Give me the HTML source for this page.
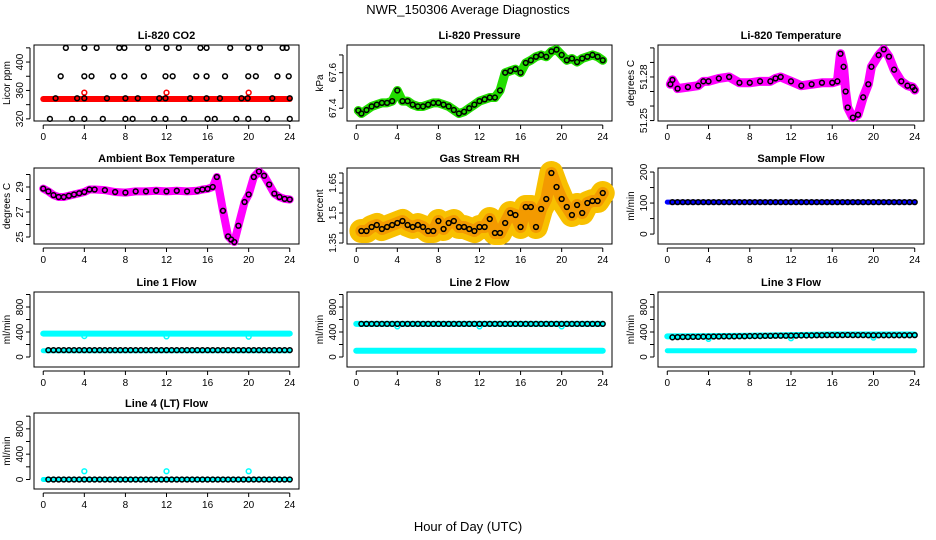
<!DOCTYPE html>
<html><head><meta charset="utf-8">
<style>
html,body{margin:0;padding:0;background:#fff;}
svg{display:block;font-family:"Liberation Sans",sans-serif;}
</style></head>
<body>
<svg id="c" width="936" height="540" viewBox="0 0 936 540">
<text x="468" y="14" text-anchor="middle" font-size="13">NWR_150306  Average Diagnostics</text>
<text x="468" y="531" text-anchor="middle" font-size="13">Hour of Day (UTC)</text>
</svg>
<script>
// ---------- data ----------
const xTicks = [0,4,8,12,16,20,24];
const HALF = [0.5,1,1.5,2,2.5,3,3.5,4,4.5,5,5.5,6,6.5,7,7.5,8,8.5,9,9.5,10,10.5,11,11.5,12,12.5,13,13.5,14,14.5,15,15.5,16,16.5,17,17.5,18,18.5,19,19.5,20,20.5,21,21.5,22,22.5,23,23.5,24];
const BAND_H = [0,24];

const co2Hours = [2.2,4.0,5.2,7.4,7.9,10.2,12.0,13.2,15.3,15.9,18.2,19.96,21.1,23.3,23.7,
 1.7,4.0,4.7,6.8,7.9,9.8,11.9,12.6,14.9,15.9,17.7,19.96,20.7,22.8,23.9,
 1.2,3.3,4.0,6.2,8.0,9.2,11.3,11.9,14.3,15.9,17.2,19.3,19.9,22.3,24,
 0.65,2.8,4.0,5.8,8.0,8.7,10.8,11.9,13.7,16.0,16.7,18.8,19.96,21.8,24];
const co2Vals = [420,420,420,420,420,420,420,420,420,420,420,420,420,420,420,
 380,380,380,380,380,380,380,380,380,380,380,380,380,380,380,
 349,349,349,349,349,349,349,349,349,349,349,349,349,349,349,
 320,320,320,320,320,320,320,320,320,320,320,320,320,320,320];
const co2Band = [348,348];
const co2RedHours = [4,12,20];
const co2RedVals = [357,357,357];

const presHours = [0.2,0.5,1,1.5,2,2.5,3,3.5,4,4.5,5,5.5,6,6.5,7,7.5,8,8.5,9,9.5,10,10.5,11,11.5,12,12.5,13,13.5,14,14.5,15,15.5,16,16.5,17,17.5,18,18.5,19,19.5,20,20.5,21,21.5,22,22.5,23,23.5,24];
const presVals = [67.387,67.37,67.39,67.41,67.42,67.43,67.43,67.44,67.50,67.44,67.44,67.42,67.41,67.41,67.42,67.43,67.43,67.42,67.41,67.39,67.37,67.38,67.40,67.42,67.44,67.45,67.46,67.46,67.50,67.60,67.61,67.62,67.60,67.655,67.67,67.69,67.70,67.69,67.72,67.73,67.70,67.67,67.68,67.66,67.68,67.69,67.70,67.69,67.67];

const ltHours = [0.3,0.5,1,2,3,3.5,4,5,6,7,8,9,10,10.5,11,12,13,14,15,16,16.5,16.8,17.1,17.3,17.5,18,18.5,19,19.5,19.8,20.5,21,21.5,22,22.7,23.3,23.8,24];
const ltVals = [51.275,51.278,51.272,51.273,51.274,51.277,51.277,51.279,51.28,51.276,51.276,51.277,51.277,51.279,51.28,51.277,51.274,51.275,51.276,51.276,51.277,51.296,51.287,51.27,51.259,51.252,51.254,51.266,51.275,51.287,51.295,51.299,51.294,51.285,51.277,51.274,51.273,51.271];

const ambHours = [0,0.5,1,1.5,2,2.5,3,3.5,4,4.5,5,6,7,8,9,10,11,12,13,14,15,15.5,16,16.5,16.9,17.5,18,18.3,18.6,19,19.6,20,20.5,21,21.5,22,22.5,23,23.5,24];
const ambVals = [28.87,28.65,28.35,28.2,28.2,28.3,28.4,28.5,28.6,28.8,28.8,28.75,28.6,28.55,28.65,28.65,28.7,28.65,28.7,28.65,28.7,28.8,28.85,29.0,29.8,27.1,25.05,24.8,24.6,25.9,27.8,28.4,29.8,30.24,29.9,29.2,28.47,28.2,28.05,28.0];

const rhVals = [1.41,1.41,1.43,1.44,1.42,1.43,1.44,1.45,1.46,1.44,1.43,1.44,1.43,1.41,1.41,1.46,1.42,1.45,1.46,1.43,1.43,1.42,1.41,1.43,1.43,1.47,1.40,1.40,1.45,1.50,1.49,1.43,1.53,1.53,1.43,1.52,1.57,1.70,1.63,1.57,1.53,1.49,1.54,1.50,1.55,1.56,1.56,1.60];

const sampleVals = [103,103];
const sampleBlack = HALF.map(()=>103);

const l1Hi = [375,375]; const l1Lo=[100,100];
const l1Black = HALF.map(()=>110);
const l2Hi = [530,530]; const l2Lo=[100,100];
const l2Black = HALF.map(()=>530);
const l2OutH=[4,12,20]; const l2OutV=[490,490,490];
const l1OutH=[4,12,20]; const l1OutV=[335,330,325];
const l3Black = [315,318,320,320,322,322,325,325,328,328,330,330,330,332,332,335,335,335,338,338,340,340,340,342,342,345,345,345,348,348,350,350,350,350,352,350,350,350,348,348,348,348,348,348,348,348,348,350];
const l3CyH=[0,4,8,12,16,20,24]; const l3CyV=[330,335,340,350,360,360,360]; const l3Lo=[100,100];
const l3OutH=[4,12,20]; const l3OutV=[290,300,310];
const l4Black = HALF.map(()=>0);
const l4OutH=[4,12,20]; const l4OutV=[130,130,130];

// ---------- drawing ----------
const NS="http://www.w3.org/2000/svg";
const svg=document.getElementById('c');
function mk(tag,attrs,parent){const e=document.createElementNS(NS,tag);for(const k in attrs)e.setAttribute(k,attrs[k]);(parent||svg).appendChild(e);return e;}

const COLS=[[34,299],[347,612],[658,924]];
const ROWS=[[45,121],[168,244],[292,367],[413,489]];

function panel(name,col,row,title,ylab,dom,ticks,labels){
  const [L,R]=COLS[col],[T,B]=ROWS[row];
  const g=mk('g',{});
  
  
  const xs=h=>L+(h+0.9)/25.8*(R-L);
  const ys=v=>B-(v-dom[0])/(dom[1]-dom[0])*(B-T);
  const box=mk('rect',{x:L,y:T,width:R-L,height:B-T,fill:'none',stroke:'#000','stroke-width':1},g);
  
  
  const t=mk('text',{x:(L+R)/2,y:T-6,'text-anchor':'middle','font-size':11,'font-weight':'bold'},g);t.textContent=title;
  
  
  const yl=mk('text',{transform:`translate(${L-24},${(T+B)/2}) rotate(-90)`,'text-anchor':'middle','font-size':10},g);yl.textContent=ylab;
  
  
  const ya=mk('g',{},g);
  
  
  mk('line',{x1:L-4,x2:L-4,y1:ys(ticks[0]),y2:ys(ticks[ticks.length-1]),stroke:'#000'},ya);
  ticks.forEach(v=>{mk('line',{x1:L-8,x2:L-4,y1:ys(v),y2:ys(v),stroke:'#000'},ya);});
  labels.forEach(v=>{const tx=mk('text',{transform:`translate(${L-11},${ys(v)}) rotate(-90)`,'text-anchor':'middle','font-size':10},ya);tx.textContent=String(v);});
  const xa=mk('g',{},g);
  
  
  mk('line',{x1:xs(0),x2:xs(24),y1:B+4,y2:B+4,stroke:'#000'},xa);
  xTicks.forEach(h=>{mk('line',{x1:xs(h),x2:xs(h),y1:B+4,y2:B+8,stroke:'#000'},xa);
    const tx=mk('text',{x:xs(h),y:B+19,'text-anchor':'middle','font-size':10},xa);tx.textContent=h;});
  return {g,xs,ys};
}
function band(p,hs,vs,color,w,name,op){
  const pts=hs.map((h,i)=>p.xs(h)+','+p.ys(vs[i])).join(' ');
  const e=mk('polyline',{points:pts,fill:'none',stroke:color,'stroke-width':w,'stroke-linecap':'round','stroke-linejoin':'round','stroke-opacity':op||1},p.g);
  
  
}
function pts(p,hs,vs,color,name,r){
  const gg=mk('g',{},p.g);
  
  
  hs.forEach((h,i)=>mk('circle',{cx:p.xs(h),cy:p.ys(vs[i]),r:r||2.4,fill:'none',stroke:color,'stroke-width':1.5},gg));
}
const MAG='#ff00ff',CY='#00ffff';

let p=panel('co2',0,0,'Li-820 CO2','Licor ppm',[317,424],[320,340,360,380,400,420],[320,360,400]);
band(p,BAND_H,co2Band,'#ff0000',6,'co2-red-band');
pts(p,co2RedHours,co2RedVals,'#ff0000','co2-red-points');
pts(p,co2Hours,co2Vals,'#000','co2-black-points');

p=panel('pressure',1,0,'Li-820 Pressure','kPa',[67.328,67.756],[67.4,67.5,67.6,67.7],[67.4,67.6]);
band(p,presHours,presVals,'#22dd00',9,'pressure-green-series');
pts(p,presHours,presVals,'#000','pressure-black-points');

p=panel('li820-temp',2,0,'Li-820 Temperature','degrees C',[51.2497,51.302],[51.25,51.26,51.27,51.28,51.29,51.30],[51.25,51.28]);
band(p,ltHours,ltVals,MAG,9,'li820-temp-magenta-series');
pts(p,ltHours,ltVals,'#000','li820-temp-black-points');

p=panel('ambient-temp',0,1,'Ambient Box Temperature','degrees C',[24.44,30.52],[25,26,27,28,29,30],[25,27,29]);
band(p,ambHours,ambVals,MAG,8,'ambient-magenta-series');
pts(p,ambHours,ambVals,'#000','ambient-black-points');

p=panel('gas-rh',1,1,'Gas Stream RH','percent',[1.345,1.725],[1.35,1.40,1.45,1.50,1.55,1.60,1.65,1.70],[1.35,1.50,1.65]);
band(p,HALF,rhVals,'#f8c000',24,'rh-yellow-band');
band(p,HALF,rhVals,'#f08000',12,'rh-orange-core',0.6);
pts(p,HALF,rhVals,'#000','rh-black-points');

p=panel('sample-flow',2,1,'Sample Flow','ml/min',[-32,213],[0,50,100,150,200],[0,100,200]);
band(p,BAND_H,sampleVals,'#0000ff',5,'sample-blue-band');
pts(p,HALF,sampleBlack,'#000','sample-black-points');

const FT=[0,200,400,600,800,1000],FL=[0,400,800];
p=panel('line1-flow',0,2,'Line 1 Flow','ml/min',[-160,1040],FT,FL);
band(p,BAND_H,l1Hi,CY,6,'line1-cyan-high');
band(p,BAND_H,l1Lo,CY,5,'line1-cyan-low');
pts(p,l1OutH,l1OutV,CY,'line1-cyan-outliers');
pts(p,HALF,l1Black,'#000','line1-black-points');

p=panel('line2-flow',1,2,'Line 2 Flow','ml/min',[-160,1040],FT,FL);
band(p,BAND_H,l2Hi,CY,6,'line2-cyan-high');
band(p,BAND_H,l2Lo,CY,6,'line2-cyan-low');
pts(p,l2OutH,l2OutV,CY,'line2-cyan-outliers');
pts(p,HALF,l2Black,'#000','line2-black-points');

p=panel('line3-flow',2,2,'Line 3 Flow','ml/min',[-160,1040],FT,FL);
band(p,l3CyH,l3CyV,CY,6,'line3-cyan-high');
band(p,BAND_H,l3Lo,CY,5,'line3-cyan-low');
pts(p,l3OutH,l3OutV,CY,'line3-cyan-outliers');
pts(p,HALF,l3Black,'#000','line3-black-points');

p=panel('line4-flow',0,3,'Line 4 (LT) Flow','ml/min',[-150,1050],FT,FL);
band(p,BAND_H,[0,0],CY,5,'line4-cyan-band');
pts(p,l4OutH,l4OutV,CY,'line4-cyan-outliers');
pts(p,HALF,l4Black,'#000','line4-black-points');
</script>
</body></html>
